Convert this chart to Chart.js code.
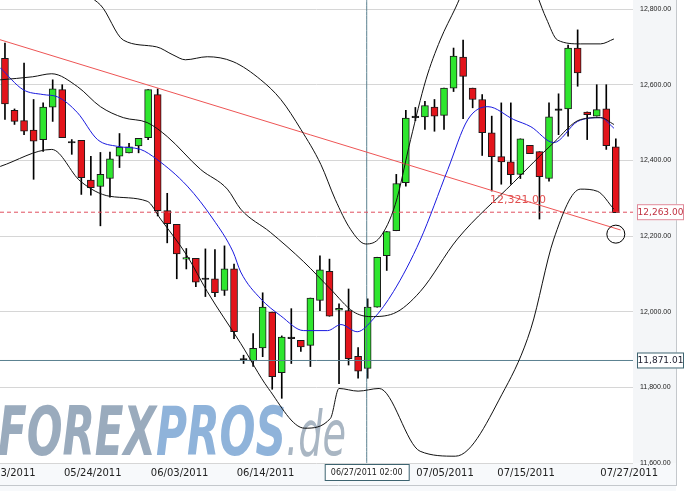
<!DOCTYPE html>
<html><head><meta charset="utf-8">
<script src="https://cdn.jsdelivr.net/npm/chart.js@4/dist/chart.umd.min.js"></script>
<style>html,body{margin:0;padding:0;background:#fff;}#w{width:692px;height:491px;}</style>
</head><body><div id="w"><canvas id="c" width="692" height="491"></canvas></div>
<script>
// Candles (one per trading day, index 0..64)
const opens  = [12670,12532,12505,12480,12455,12541,12587,12450,12453,12348,12331,12352,12411,12420,12438,12460,12574,12267,12231,12139,12141,12085,12087,12056,12113,11872,11870,11904,11999,11839,11929,11924,11911,12030,12107,12004,12003,11882,11850,12012,12148,12214,12341,12513,12515,12541,12519,12591,12673,12591,12561,12473,12410,12396,12363,12440,12423,12352,12532,12536,12697,12528,12517,12536,12436];
const highs  = [12710,12536,12657,12561,12552,12613,12600,12455,12453,12411,12421,12422,12471,12445,12458,12587,12589,12313,12231,12167,12141,12166,12164,12174,12126,11885,11942,12050,11999,11936,12008,11924,12036,12148,12139,12021,12060,11905,12034,12144,12212,12363,12532,12540,12556,12561,12591,12697,12718,12591,12574,12517,12552,12552,12457,12440,12423,12552,12576,12705,12745,12528,12600,12600,12457];
const lows   = [12508,12495,12468,12350,12424,12503,12460,12416,12310,12308,12227,12303,12381,12420,12420,12455,12253,12182,12087,12113,12066,12040,12040,12043,11929,11863,11855,11881,11795,11771,11863,11895,11855,12003,11988,11810,11859,11824,11824,12012,12109,12214,12332,12505,12482,12477,12482,12582,12510,12539,12413,12319,12337,12337,12352,12418,12245,12345,12468,12464,12596,12455,12517,12429,12262];
const closes = [12549,12503,12477,12451,12541,12589,12460,12446,12354,12328,12363,12404,12435,12436,12458,12587,12267,12233,12153,12143,12078,12089,12050,12113,11947,11876,11903,12012,11828,11933,11933,11907,12036,12111,11988,12009,11876,11843,12012,12144,12212,12339,12512,12517,12545,12517,12591,12676,12622,12561,12473,12410,12396,12362,12457,12418,12357,12515,12536,12697,12631,12521,12534,12439,12262];
const dojiIdx = [7,21,25,30,43,58];

// Indicator lines: [index, value]
const upperBand = [[-0.5,12880],[5,12860],[10,12811],[12.4,12718],[15.9,12700],[17.6,12679],[18.9,12666],[21.2,12674],[23.9,12661],[26.8,12613],[28.9,12561],[31,12482],[33.1,12389],[34.6,12297],[36.2,12218],[37.8,12179],[39.3,12197],[40.9,12284],[42.5,12455],[44.1,12613],[45.6,12718],[47.2,12803],[49,12900],[52,12950],[55,12880],[56.7,12776],[57.9,12718],[60.3,12708],[62.4,12708],[63.8,12721]];
const midBand = [[-0.5,12613],[2.9,12621],[4.9,12629],[7.6,12595],[10,12542],[12.4,12513],[14.9,12500],[17,12463],[20.5,12376],[23.3,12324],[24.7,12271],[27.8,12210],[31.3,12132],[34.1,12060],[36.5,12000],[38.3,11987],[40.7,11995],[43.5,12053],[47.4,12192],[53.3,12342],[57.5,12447],[60.3,12508],[62.4,12513],[63.8,12495]];
const lowerBand = [[-0.5,12384],[4.9,12429],[7.9,12345],[11,12305],[14.9,12292],[16.3,12245],[19.1,12147],[21.2,12053],[24.7,11916],[27.6,11797],[31.4,11692],[34.1,11718],[35,11797],[37,11790],[39.2,11797],[43.5,11631],[47.2,11618],[52.4,11797],[55.1,11955],[57.5,12192],[60.3,12324],[62.1,12318],[63.8,12271]];
const emaLine = [[-0.5,12645],[1.9,12587],[4,12574],[5.5,12568],[7.6,12526],[9.7,12455],[11.8,12437],[14.2,12429],[15.9,12403],[19.1,12332],[21.8,12245],[23.9,12158],[24.7,12105],[26.8,12034],[28.9,11989],[31.3,11950],[33.8,11950],[35.2,11966],[36.9,11947],[38.6,11981],[40.7,12053],[43.5,12189],[46.4,12376],[48.5,12508],[50.6,12542],[53.3,12508],[55.1,12489],[57.5,12447],[60,12503],[62.4,12513],[63.8,12485]];
const trendLine = [[-0.52,12719],[64.5,12216]];
const lastPrice = 12263.00, crossPrice = 11871.01, crossIdx = 37.9, trendLabel = 12321.00;
const dateTicks = [0.2,9.2,18.3,27.3,37.1,46.1,54.6,65.4];
const dateLabels = ['05/13/2011','05/24/2011','06/03/2011','06/14/2011','06/27/2011','07/05/2011','07/15/2011','07/27/2011'];
const yTicks = [11600,11800,12000,12200,12400,12600,12800];
const X_MIN=-0.52, X_MAX=65.8, Y_MIN=11600, Y_MAX=12824;

const RED='#e3141b', GREEN='#2ee62e';
const bodyCol = opens.map((o,i)=> dojiIdx.includes(i)?'#000': (closes[i]>=o?GREEN:RED));
const pts = a => a.map(p=>({x:p[0],y:p[1]}));
const fmt = v => v.toLocaleString('en-US',{minimumFractionDigits:2,maximumFractionDigits:2});

const deco = {
  id:'deco',
  beforeDraw(c){
    const g=c.ctx; g.save();
    g.fillStyle='#f4f6f8'; g.fillRect(633,0,43,491);
    g.fillStyle='#f7f9fb'; g.fillRect(0,463,676,28);
    g.strokeStyle='#c4c8cc'; g.lineWidth=1;
    g.beginPath(); g.moveTo(676.5,0); g.lineTo(676.5,486); g.moveTo(0,485.5); g.lineTo(677,485.5); g.stroke();
    g.fillStyle='#fff'; g.fillRect(0,0,633,463);
    g.restore();
  },
  beforeDatasetsDraw(c){
    const g=c.ctx; g.save();
    const part=(txt,font,col,x0,x1)=>{
      g.font=font; const w=g.measureText(txt).width; const k=(x1-x0)/w;
      g.save(); g.setTransform(k,0,0,1,x0,0); g.fillStyle=col; g.fillText(txt,0,455); g.restore();
    };
    part('FOREX','italic bold 68px "DejaVu Sans Condensed","DejaVu Sans"','#9aabbd',-2,156);
    part('PROS','italic bold 68px "DejaVu Sans Condensed","DejaVu Sans"','#8fb3da',156,286);
    part('.de','italic 62px "DejaVu Sans Condensed","DejaVu Sans"','#a9b6c3',286,346);
    g.restore();
  },
  afterDatasetsDraw(c){
    const g=c.ctx, xs=c.scales.x, ys=c.scales.y; g.save();
    g.font='11px "DejaVu Sans"'; g.fillStyle='#e05050'; g.textBaseline='middle';
    g.fillText(fmt(trendLabel),490,200);
    g.strokeStyle='#000'; g.lineWidth=1; g.beginPath();
    g.arc(xs.getPixelForValue(64.0), ys.getPixelForValue(12205), 9, 0, Math.PI*2); g.stroke();
    const box=(v,col,txtCol)=>{ const y=ys.getPixelForValue(v);
      g.fillStyle='#fff'; g.fillRect(637,y-8,46,16); g.strokeStyle=col; g.strokeRect(637.5,y-7.5,46,15);
      g.fillStyle=txtCol; g.font='9px "DejaVu Sans"'; g.textAlign='center'; g.fillText(fmt(v),660.5,y+0.5); };
    box(lastPrice,'#e08a9a','#c03040');
    box(crossPrice,'#3d6470','#223');
    const cx=xs.getPixelForValue(crossIdx);
    g.fillStyle='#fff'; g.fillRect(cx-42,464,84,16); g.strokeStyle='#3d6470'; g.strokeRect(cx-41.5,464.5,84,16);
    g.fillStyle='#222'; g.font='8px "DejaVu Sans"'; g.textAlign='center'; g.fillText('06/27/2011 02:00',cx,473);
    g.restore();
  }
};

const line=(data,color,extra={})=>Object.assign({type:'line',data:pts(data),borderColor:color,borderWidth:1,pointRadius:0,tension:0.4,cubicInterpolationMode:'monotone',order:0,fill:false},extra);

new Chart(document.getElementById('c'),{
  data:{datasets:[
    {type:'bar',data:opens.map((o,i)=>({x:i,y:[lows[i],highs[i]]})),backgroundColor:'#000',barThickness:1,grouped:false,order:3},
    {type:'bar',data:opens.map((o,i)=>({x:i,y:[o,closes[i]]})),backgroundColor:bodyCol,borderColor:'#1a1a1a',borderWidth:1,borderSkipped:false,barThickness:7,grouped:false,order:2},
    line(upperBand,'#111'), line(midBand,'#111'), line(lowerBand,'#111'), line(emaLine,'#1a1ae0'),
    line(trendLine,'#ee5555',{tension:0}),
    line([[X_MIN,lastPrice],[X_MAX,lastPrice]],'#e05060',{tension:0,borderDash:[4,3]}),
    line([[X_MIN,crossPrice],[X_MAX,crossPrice]],'#5a8090',{tension:0}),
    line([[crossIdx,Y_MIN],[crossIdx,Y_MAX]],'#5a8090',{tension:0})
  ]},
  options:{
    responsive:false, animation:false, devicePixelRatio:1,
    layout:{padding:0},
    plugins:{legend:{display:false},tooltip:{enabled:false}},
    scales:{
      x:{type:'linear',min:X_MIN,max:X_MAX,offset:false,grid:{display:false},border:{display:false},
        afterBuildTicks:s=>{s.ticks=dateTicks.map(v=>({value:v}));},
        afterFit:s=>{s.height=28;s.paddingLeft=0;s.paddingRight=0;},
        ticks:{autoSkip:false,maxRotation:0,padding:-4,color:'#222',font:{family:'DejaVu Sans',size:10},
          callback:(v)=>{const k=dateTicks.indexOf(v);return k>=0?dateLabels[k]:'';}}},
      y:{position:'right',min:Y_MIN,max:Y_MAX,grid:{color:'#d6d6d6',drawTicks:false},border:{display:false},
        afterBuildTicks:s=>{s.ticks=yTicks.map(v=>({value:v}));},
        afterFit:s=>{s.width=59;s.paddingTop=0;s.paddingBottom=0;},
        ticks:{padding:7,color:'#222',font:{family:'Liberation Sans',size:7},callback:v=>fmt(v)}}
    }
  },
  plugins:[deco]
});
</script></body></html>
